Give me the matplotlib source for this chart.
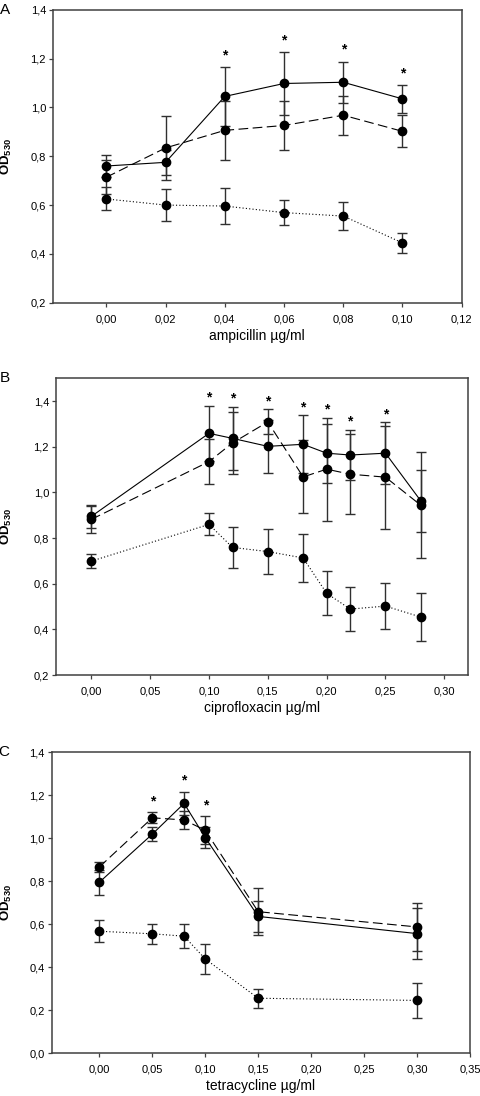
import numpy as np
import matplotlib
matplotlib.use("Agg")
import matplotlib.pyplot as plt
from matplotlib.ticker import FuncFormatter

plt.rcParams['font.family'] = ['Liberation Sans', 'DejaVu Sans']
plt.rcParams['mathtext.default'] = 'regular'
plt.rcParams['lines.scale_dashes'] = False

# --- A: ampicillin
amp_x = [0.00, 0.02, 0.04, 0.06, 0.08, 0.10]
amp_solid = [0.760, 0.775, 1.045, 1.098, 1.103, 1.035]
amp_solid_err = [0.045, 0.050, 0.120, 0.130, 0.085, 0.056]
amp_dash = [0.714, 0.834, 0.906, 0.926, 0.968, 0.902]
amp_dash_err = [0.070, 0.130, 0.120, 0.100, 0.080, 0.066]
amp_dot = [0.625, 0.600, 0.596, 0.569, 0.555, 0.445]
amp_dot_err = [0.047, 0.067, 0.072, 0.052, 0.059, 0.041]
amp_stars = [0.04, 0.06, 0.08, 0.10]
amp_xticks = [0.00, 0.02, 0.04, 0.06, 0.08, 0.10, 0.12]
amp_yticks = [0.2, 0.4, 0.6, 0.8, 1.0, 1.2, 1.4]

# --- B: ciprofloxacin
cip_x = [0.00, 0.10, 0.12, 0.15, 0.18, 0.20, 0.22, 0.25, 0.28]
cip_solid = [0.895, 1.259, 1.237, 1.202, 1.211, 1.172, 1.164, 1.172, 0.963]
cip_solid_err = [0.050, 0.120, 0.137, 0.117, 0.127, 0.130, 0.110, 0.135, 0.135]
cip_dash = [0.882, 1.135, 1.217, 1.309, 1.068, 1.102, 1.080, 1.067, 0.944]
cip_dash_err = [0.060, 0.100, 0.137, 0.055, 0.160, 0.225, 0.175, 0.225, 0.233]
cip_dot = [0.699, 0.860, 0.759, 0.741, 0.713, 0.558, 0.489, 0.502, 0.454]
cip_dot_err = [0.032, 0.048, 0.090, 0.098, 0.106, 0.096, 0.097, 0.100, 0.107]
cip_stars = [0.10, 0.12, 0.15, 0.18, 0.20, 0.22, 0.25]
cip_xticks = [0.00, 0.05, 0.10, 0.15, 0.20, 0.25, 0.30]
cip_yticks = [0.2, 0.4, 0.6, 0.8, 1.0, 1.2, 1.4]

# --- C: tetracycline
tet_x = [0.00, 0.05, 0.08, 0.10, 0.15, 0.30]
tet_solid = [0.795, 1.019, 1.162, 1.003, 0.636, 0.556]
tet_solid_err = [0.058, 0.032, 0.054, 0.048, 0.072, 0.120]
tet_dash = [0.866, 1.095, 1.085, 1.037, 0.658, 0.587]
tet_dash_err = [0.024, 0.025, 0.044, 0.065, 0.110, 0.110]
tet_dot = [0.567, 0.555, 0.544, 0.438, 0.255, 0.245]
tet_dot_err = [0.052, 0.047, 0.057, 0.069, 0.044, 0.082]
tet_stars = [0.05, 0.08, 0.10]
tet_xticks = [0.00, 0.05, 0.10, 0.15, 0.20, 0.25, 0.30, 0.35]
tet_yticks = [0.0, 0.2, 0.4, 0.6, 0.8, 1.0, 1.2, 1.4]

spine_c = '#404040'
err_c = '#303030'


def panel(ax, x, series, stars, star_off, xticks, yticks, xlim, ylim, xlabel, letter, ylab_x):
    styles = [(0, ()), (0, (7, 3.2)), (0, (0.8, 1.6))]
    for (y, e), ls in zip(series, styles):
        ax.errorbar(x, y, yerr=e, color='black', ecolor=err_c, elinewidth=1.0,
                    capsize=3.3, capthick=1.0, lw=0.8, linestyle=ls,
                    marker='o', markersize=6, mfc='black', mec='black', zorder=3)
    tops = np.max([np.array(y) + np.array(e) for y, e in series], axis=0)
    for s in stars:
        i = list(x).index(s)
        ax.annotate('*', (s, tops[i]), xytext=(0, star_off), textcoords='offset points',
                    ha='center', va='baseline', fontsize=10, fontweight='bold')
    ax.set_xlim(xlim)
    ax.set_ylim(ylim)
    ax.set_xticks(xticks)
    ax.set_yticks(yticks)
    ax.xaxis.set_major_formatter(FuncFormatter(lambda v, p: f'{v:.2f}'.replace('.', ',')))
    ax.yaxis.set_major_formatter(FuncFormatter(lambda v, p: f'{v:.1f}'.replace('.', ',')))
    ax.tick_params(direction='out', length=3, width=0.9, color=spine_c,
                   labelsize=8, top=False, right=False)
    ax.tick_params(axis='x', pad=5.5)
    ax.tick_params(axis='y', pad=2)
    for sp in ax.spines.values():
        sp.set_color(spine_c)
        sp.set_linewidth(1.1)
    ax.set_xlabel(xlabel, fontsize=10, labelpad=3)
    ax.set_ylabel('OD$_{530}$', fontsize=9.5, fontweight='bold', va='center')
    ax.yaxis.set_label_coords(ylab_x, 0.5)
    ax.text(ylab_x - 0.005, 1.0, letter, transform=ax.transAxes, fontsize=11,
            ha='center', va='center')


fig = plt.figure(figsize=(4.8, 10.96), dpi=100)
axA = fig.add_axes([0.1104, 0.7238, 0.8515, 0.2673])
axB = fig.add_axes([0.1167, 0.3841, 0.8590, 0.2707])
axC = fig.add_axes([0.1077, 0.0392, 0.8715, 0.2744])

panel(axA, amp_x, [(amp_solid, amp_solid_err), (amp_dash, amp_dash_err), (amp_dot, amp_dot_err)],
      amp_stars, 5.5, amp_xticks, amp_yticks, (-0.018, 0.12), (0.2, 1.4),
      'ampicillin µg/ml', 'A', -0.113)
panel(axB, cip_x, [(cip_solid, cip_solid_err), (cip_dash, cip_dash_err), (cip_dot, cip_dot_err)],
      cip_stars, 3.0, cip_xticks, cip_yticks, (-0.030, 0.3204), (0.2, 1.5),
      'ciprofloxacin µg/ml', 'B', -0.119)
panel(axC, tet_x, [(tet_solid, tet_solid_err), (tet_dash, tet_dash_err), (tet_dot, tet_dot_err)],
      tet_stars, 5.0, tet_xticks, tet_yticks, (-0.045, 0.35), (0.0, 1.4),
      'tetracycline µg/ml', 'C', -0.109)

fig.savefig('out.png', dpi=100)
